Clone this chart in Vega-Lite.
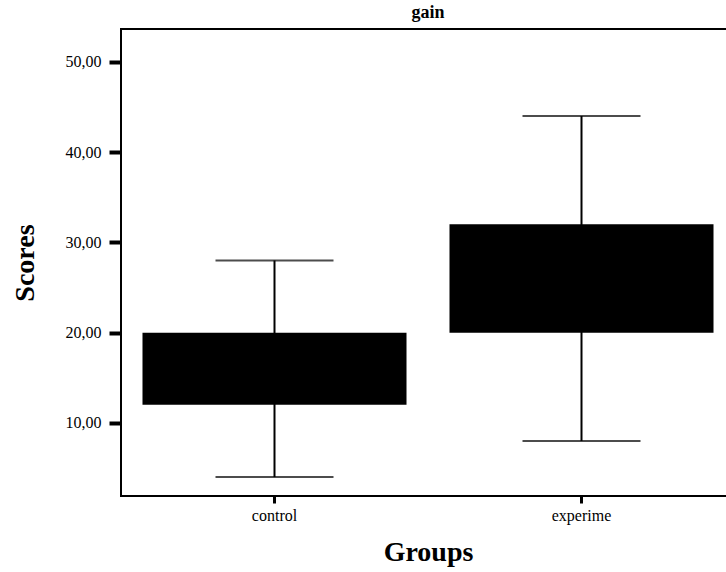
{
  "$schema": "https://vega.github.io/schema/vega-lite/v6.json",
  "autosize": "none",
  "width": 614,
  "height": 467,
  "padding": {"left": 121, "top": 29, "right": 0, "bottom": 76},
  "background": "white",
  "title": {"text": "gain", "font": "Liberation Serif", "fontSize": 18, "fontWeight": "bold", "color": "black", "offset": 7, "anchor": "middle"},
  "data": {"values": [
    {"group": "control", "lower": 4, "q1": 12, "q3": 20, "upper": 28},
    {"group": "experime", "lower": 8, "q1": 20, "q3": 32, "upper": 44}
  ]},
  "encoding": {
    "x": {"field": "group", "type": "nominal", "sort": null,
      "scale": {"paddingInner": 0, "paddingOuter": 0},
      "axis": {"title": "Groups", "labelAngle": 0, "domain": false, "tickSize": 7, "tickWidth": 3, "tickColor": "black",
        "labelFont": "Liberation Serif", "labelFontSize": 16, "labelColor": "black", "labelPadding": 4,
        "titleFont": "Liberation Serif", "titleFontSize": 28, "titleFontWeight": "bold", "titleColor": "black", "titlePadding": 15}}
  },
  "layer": [
    {"mark": {"type": "rule", "color": "black", "strokeWidth": 2},
     "encoding": {
       "y": {"field": "lower", "type": "quantitative",
         "scale": {"domain": [1.9, 53.65], "nice": false, "zero": false},
         "axis": {"title": "Scores", "values": [10, 20, 30, 40, 50], "grid": false, "domain": false,
           "tickSize": 12, "tickWidth": 4, "tickColor": "black",
           "labelExpr": "replace(format(datum.value, '.2f'), '.', ',')",
           "labelFont": "Liberation Serif", "labelFontSize": 16, "labelColor": "black", "labelPadding": 8,
           "titleFont": "Liberation Serif", "titleFontSize": 28, "titleFontWeight": "bold", "titleColor": "black", "titlePadding": 26}},
       "y2": {"field": "upper"}
     }},
    {"mark": {"type": "bar", "color": "black", "width": {"band": 0.86}},
     "encoding": {"y": {"field": "q1", "type": "quantitative"}, "y2": {"field": "q3"}}},
    {"mark": {"type": "tick", "color": "black", "size": 118, "thickness": 2},
     "encoding": {"y": {"field": "lower", "type": "quantitative"}}},
    {"mark": {"type": "tick", "color": "black", "size": 118, "thickness": 2},
     "encoding": {"y": {"field": "upper", "type": "quantitative"}}}
  ],
  "config": {
    "view": {"stroke": "black", "strokeWidth": 2},
    "axis": {"grid": false}
  }
}
